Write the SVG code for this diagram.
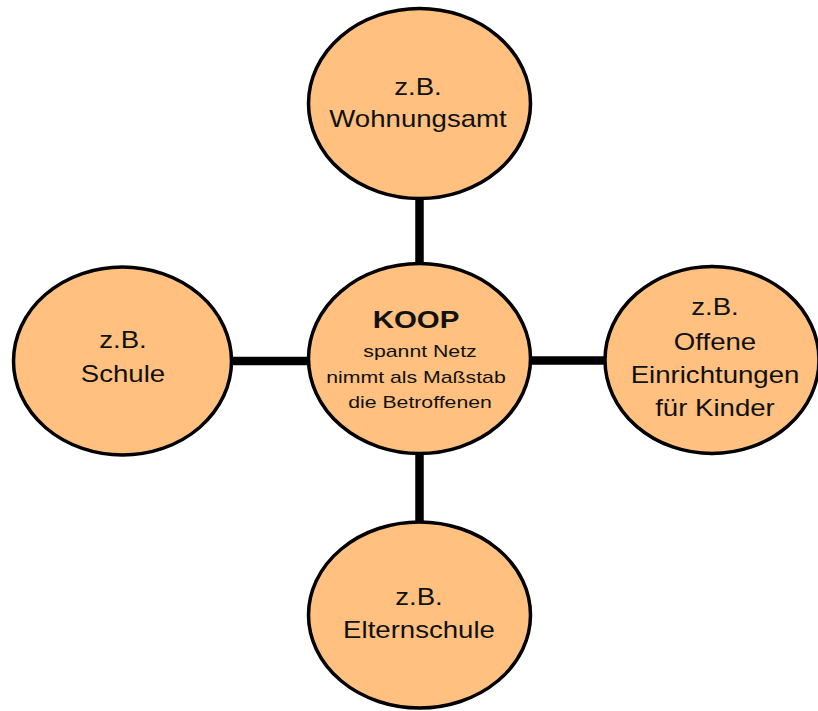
<svg xmlns="http://www.w3.org/2000/svg" width="818" height="711" viewBox="0 0 818 711">
<style>
.node{fill:#FFC080;stroke:#000;stroke-width:3.5}
.t{font-family:"Liberation Sans",Arial,sans-serif;font-size:23px;fill:#111;text-anchor:middle}
.s{font-family:"Liberation Sans",Arial,sans-serif;font-size:17px;fill:#111;text-anchor:middle}
.b{font-family:"Liberation Sans",Arial,sans-serif;font-size:23px;font-weight:bold;fill:#111;text-anchor:middle}
.c{stroke:#000;stroke-width:8.5;fill:none}
</style>
<rect width="818" height="711" fill="#fff"/>
<g id="connectors">
<line class="c" x1="419.5" y1="199" x2="419.5" y2="264"/>
<line class="c" x1="419.5" y1="454" x2="419.5" y2="522"/>
<line class="c" x1="231" y1="361" x2="309" y2="361"/>
<line class="c" x1="529" y1="360.5" x2="606" y2="360.5"/>
</g>
<g id="top">
<ellipse class="node" cx="419.5" cy="103.5" rx="111" ry="95"/>
<text class="t" transform="translate(418 95) scale(1.2 1)">z.B.</text>
<text class="t" transform="translate(418 127) scale(1.2 1)">Wohnungsamt</text>
</g>
<g id="left">
<ellipse class="node" cx="122.5" cy="361" rx="109" ry="94"/>
<text class="t" transform="translate(123 348) scale(1.2 1)">z.B.</text>
<text class="t" transform="translate(123 382) scale(1.2 1)">Schule</text>
</g>
<g id="right">
<ellipse class="node" cx="712" cy="360" rx="107" ry="93.5"/>
<text class="t" transform="translate(715 315) scale(1.2 1)">z.B.</text>
<text class="t" transform="translate(715 350) scale(1.2 1)">Offene</text>
<text class="t" transform="translate(715 383) scale(1.2 1)">Einrichtungen</text>
<text class="t" transform="translate(715 416) scale(1.2 1)">für Kinder</text>
</g>
<g id="bottom">
<ellipse class="node" cx="419.5" cy="615" rx="111" ry="93"/>
<text class="t" transform="translate(419 605) scale(1.2 1)">z.B.</text>
<text class="t" transform="translate(419 638) scale(1.2 1)">Elternschule</text>
</g>
<g id="center">
<ellipse class="node" cx="419.5" cy="358.5" rx="111" ry="95"/>
<text class="b" transform="translate(416 328) scale(1.28 1)">KOOP</text>
<text class="s" transform="translate(420 357) scale(1.25 1)">spannt Netz</text>
<text class="s" transform="translate(416 383) scale(1.25 1)">nimmt als Maßstab</text>
<text class="s" transform="translate(420 408) scale(1.25 1)">die Betroffenen</text>
</g>
</svg>
